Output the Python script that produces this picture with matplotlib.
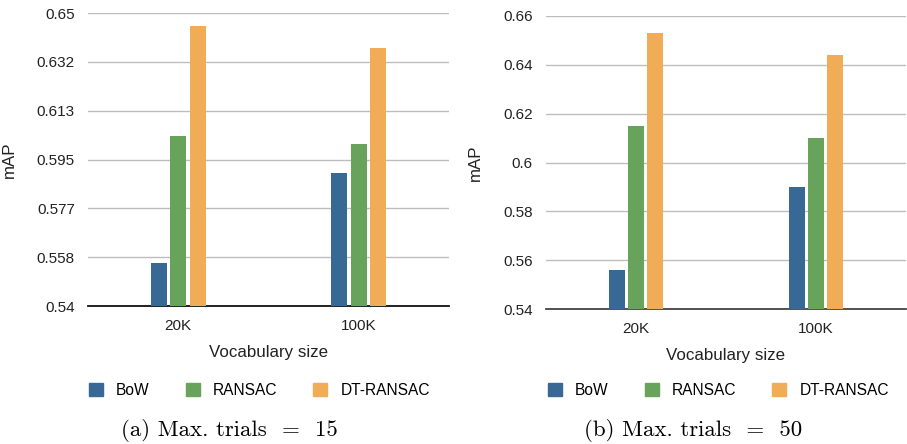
import numpy as np
import matplotlib
matplotlib.use("Agg")
import matplotlib.pyplot as plt
from matplotlib.patches import Patch

plt.rcParams['font.family'] = ['Liberation Sans', 'DejaVu Sans']

vocab = ["20K", "100K"]
methods = ["BoW", "RANSAC", "DT-RANSAC"]
colors = ["#386894", "#68a35c", "#f1ac57"]

# mAP per method, max trials = 15
map_15 = {
    "BoW": [0.556, 0.590],
    "RANSAC": [0.604, 0.601],
    "DT-RANSAC": [0.645, 0.637],
}
ticks_15 = ["0.54", "0.558", "0.577", "0.595", "0.613", "0.632", "0.65"]
tick_vals_15 = np.linspace(0.54, 0.65, 7)

# mAP per method, max trials = 50
map_50 = {
    "BoW": [0.556, 0.590],
    "RANSAC": [0.615, 0.610],
    "DT-RANSAC": [0.653, 0.644],
}
ticks_50 = ["0.54", "0.56", "0.58", "0.6", "0.62", "0.64", "0.66"]
tick_vals_50 = [0.54, 0.56, 0.58, 0.60, 0.62, 0.64, 0.66]

W, H = 907, 444


def draw_panel(fig, ax, data, tick_vals, tick_labels, base_color,
               ylab_x, leg_x, caption, cap_x):
    x = np.arange(len(vocab))
    width = 0.089
    step = 0.108
    for i, m in enumerate(methods):
        ax.bar(x + (i - 1) * step, np.array(data[m]) - tick_vals[0],
               width, bottom=tick_vals[0], color=colors[i], zorder=3)
    ax.set_xlim(-0.5, 1.5)
    ax.set_ylim(tick_vals[0], tick_vals[-1])
    ax.set_yticks(tick_vals)
    ax.set_yticklabels(tick_labels)
    ax.set_xticks(x)
    ax.set_xticklabels(vocab)
    ax.yaxis.grid(True, color="#bdbdbd", linewidth=1.0, zorder=0)
    for s in ["top", "right", "left"]:
        ax.spines[s].set_visible(False)
    ax.spines["bottom"].set_color(base_color)
    ax.spines["bottom"].set_linewidth(1.3)
    ax.tick_params(axis="both", length=0, labelsize=11, colors="#222222")
    ax.tick_params(axis="y", pad=9.5)
    ax.tick_params(axis="x", pad=9)
    ax.set_ylabel("mAP", fontsize=12.2, color="#222222")
    ax.yaxis.set_label_coords(ylab_x, 0.5)
    ax.set_xlabel("Vocabulary size", fontsize=12.2, labelpad=9, color="#222222")

    handles = [Patch(color=c) for c in colors]
    fig.legend(handles, methods, loc="center left",
               bbox_to_anchor=(leg_x / W, 1 - 390 / H),
               ncol=3, frameon=False, fontsize=11.2, handlelength=0.9,
               handleheight=0.9, columnspacing=2.3, handletextpad=0.85,
               borderpad=0, borderaxespad=0)
    fig.text(cap_x / W, 1 - 430 / H, caption, ha="center", va="center",
             fontsize=16.5, family="cmr10")


fig = plt.figure(figsize=(W / 100, H / 100), dpi=100)
ax1 = fig.add_axes([88 / W, 1 - 306 / H, 361 / W, 293 / H])
ax2 = fig.add_axes([546 / W, 1 - 309.3 / H, 360 / W, 293.6 / H])

draw_panel(fig, ax1, map_15, tick_vals_15, ticks_15, "#111111",
           -0.197, 89, "(a) Max. trials  =  15", 229)
draw_panel(fig, ax2, map_50, tick_vals_50, ticks_50, "#444444",
           -0.175, 548, "(b) Max. trials  =  50", 693)

fig.savefig("out.png", dpi=100)
